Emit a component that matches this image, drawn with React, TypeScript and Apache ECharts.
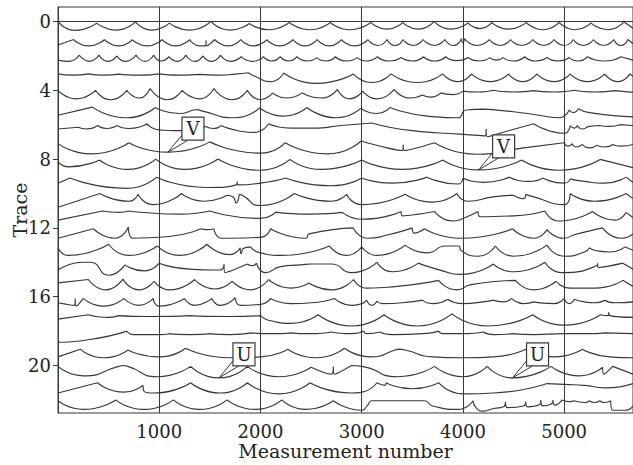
import React, { useEffect, useRef } from "react";
import * as echarts from "echarts";

const xTicks = [1000, 2000, 3000, 4000, 5000];
const yTicks = [0, 4, 8, 12, 16, 20];
const xName = "Measurement number";
const yName = "Trace";

// Each trace: [measurement, offset below the trace's own level (trace units)]
const trace0 = [[0,0],[170,0.52],[382,0.1],[570,0.5],[765,0.02],[930,0.5],[1100,0.1],[1300,0.5],[1510,0.0],[1700,0.5],[1890,0.12],[2080,0.48],[2285,0.05],[2490,0.48],[2690,0.05],[2880,0.48],[3090,0.05],[3250,0.45],[3405,0.05],[3560,0.45],[3715,0.0],[3880,0.45],[4050,0.08],[4170,0.42],[4285,0.05],[4450,0.45],[4625,0.05],[4790,0.48],[4950,0.05],[5110,0.48],[5265,0.08],[5430,0.48],[5590,0.02],[5680,0.4]];
const trace1 = [[0,0.37],[155,0.05],[300,0.42],[460,0.05],[600,0.42],[735,0.05],[880,0.42],[1030,0.05],[1160,0.42],[1300,0.05],[1400,0.42],[1455,0.42],[1462,0.1],[1469,0.42],[1550,0.05],[1680,0.42],[1805,0.05],[1930,0.42],[2062,0.05],[2190,0.42],[2320,0.05],[2440,0.42],[2560,0.05],[2680,0.42],[2800,0.05],[2930,0.42],[3060,0.05],[3160,0.4],[3250,0.05],[3330,0.4],[3408,0.05],[3510,0.4],[3606,0.05],[3720,0.4],[3820,0.05],[3910,0.4],[3985,0.0],[4000,0.25],[4015,0.0],[4140,0.4],[4260,0.05],[4370,0.4],[4470,0.05],[4580,0.4],[4690,0.05],[4800,0.4],[4900,0.05],[5000,0.4],[5090,0.05],[5190,0.4],[5290,0.05],[5390,0.4],[5490,0.05],[5560,0.4],[5630,0.05],[5680,0.3]];
const trace2 = [[0,0.25],[110,0.32],[210,-0.05],[310,0.32],[405,-0.05],[490,0.32],[580,0.0],[670,0.32],[770,-0.05],[860,0.32],[945,-0.05],[1020,0.3],[1095,0.05],[1180,0.32],[1262,-0.05],[1350,0.32],[1430,0.0],[1520,0.32],[1605,-0.05],[1700,0.32],[1810,0.05],[1920,0.32],[2030,0.05],[2110,0.3],[2195,0.05],[2280,0.3],[2360,0.05],[2460,0.3],[2555,0.1],[2650,0.3],[2740,0.05],[2850,0.3],[2955,0.1],[3050,0.3],[3155,0.05],[3270,0.3],[3390,0.1],[3500,0.3],[3610,0.05],[3720,0.3],[3830,0.05],[3940,0.28],[4050,0.1],[4160,0.3],[4265,0.1],[4330,0.25],[4395,0.1],[4500,0.3],[4610,0.05],[4720,0.3],[4830,0.1],[4940,0.3],[5050,0.1],[5140,0.3],[5230,0.05],[5400,0.3],[5560,0.05],[5680,0.25]];
const trace3 = [[0,0.05],[150,0.12],[300,0.05],[450,0.12],[600,0.06],[800,0.12],[1000,0.05],[1200,0.12],[1400,0.08],[1600,0.12],[1750,0.06],[1880,-0.02],[1950,0.2],[2100,0.5],[2230,0.0],[2550,0.6],[2917,0.05],[3100,0.55],[3290,0.05],[3550,0.55],[3800,0.05],[3950,0.5],[4085,0.05],[4270,0.5],[4450,0.05],[4590,0.5],[4730,0.05],[4900,0.5],[5060,0.05],[5230,0.5],[5400,0.05],[5530,0.5],[5650,0.05],[5680,0.2]];
const trace4 = [[0,0.0],[180,0.5],[370,0.0],[520,0.55],[680,0.0],[800,0.45],[910,-0.1],[1080,0.55],[1226,0.0],[1400,0.5],[1540,-0.1],[1720,0.55],[1870,0.0],[2000,0.55],[2120,0.15],[2260,0.45],[2410,0.15],[2600,0.45],[2760,-0.05],[2880,0.5],[3010,0.05],[3150,0.5],[3320,-0.05],[3480,0.45],[3600,0.28],[3680,0.4],[3780,0.15],[3900,0.25],[4000,0.05],[4150,0.1],[4300,0.0],[4500,0.1],[4700,0.02],[4900,0.1],[5100,0.0],[5300,0.1],[5500,0.02],[5680,0.12]];
const trace5 = [[0,0.45],[340,-0.02],[680,0.6],[960,0.0],[1200,0.35],[1340,0.15],[1380,0.12],[1410,0.18],[1750,0.6],[1990,0.02],[2230,0.5],[2460,0.0],[2750,0.6],[2990,0.05],[3150,0.35],[3280,0.0],[3650,0.5],[3950,0.6],[4030,0.15],[4200,0.1],[4500,0.25],[4750,0.45],[4950,0.6],[5050,0.15],[5090,0.3],[5140,0.08],[5250,0.3],[5680,0.55]];
const trace6 = [[0,0.25],[200,0.15],[280,0.25],[390,0.05],[480,0.22],[583,0.05],[700,0.22],[880,-0.05],[1000,0.3],[1150,0.35],[1300,0.3],[1460,0.1],[1540,0.22],[1610,0.05],[1780,0.35],[1936,0.45],[2081,-0.05],[2300,0.2],[2518,0.2],[2800,0.05],[3100,-0.1],[3500,0.35],[3974,0.55],[4220,0.65],[4229,0.25],[4240,0.7],[4450,0.35],[4700,-0.05],[4850,0.35],[5000,0.5],[5060,0.05],[5100,0.2],[5130,0.05],[5180,0.25],[5250,0.1],[5350,0.05],[5450,0.1],[5550,0.0],[5680,0.05]];
const trace7 = [[0,0.1],[330,0.7],[700,0.05],[1086,0.6],[1500,0.0],[2000,0.65],[2245,0.05],[2660,0.7],[2995,-0.05],[3250,0.35],[3400,0.5],[3410,0.15],[3420,0.5],[3720,0.05],[4140,0.72],[4600,0.35],[5000,0.05],[5040,0.25],[5080,0.1],[5120,0.3],[5180,0.15],[5250,0.35],[5320,0.2],[5400,0.3],[5480,0.15],[5560,0.25],[5680,0.15]];
const trace8 = [[0,0.15],[100,0.45],[410,0.05],[690,0.6],[965,0.0],[1250,0.6],[1580,0.0],[2000,0.65],[2290,0.02],[2600,0.6],[3000,0.05],[3400,0.6],[3800,0.05],[4155,0.63],[4580,0.05],[4950,0.65],[5355,0.02],[5680,0.5]];
const trace9 = [[0,0.4],[120,0.1],[680,0.7],[975,0.05],[1470,0.65],[1760,0.5],[1770,0.3],[1780,0.5],[2000,0.4],[2250,0.1],[2700,0.55],[3000,0.1],[3300,0.4],[3645,0.05],[3950,0.45],[4000,0.1],[4200,0.35],[4460,0.05],[4650,0.3],[4790,0.1],[5000,0.4],[5060,0.15],[5200,0.3],[5400,0.4],[5610,0.05],[5680,0.35]];
const trace10 = [[0,0.8],[415,0.0],[700,0.45],[790,0.05],[940,0.65],[1220,0.0],[1440,0.45],[1670,0.1],[1730,0.2],[1760,0.55],[1790,0.05],[1820,0.1],[2000,0.7],[2335,0.0],[2700,0.45],[2850,0.05],[3000,0.65],[3430,0.05],[3700,0.5],[3940,0.0],[4050,0.45],[4300,0.2],[4500,0.1],[4600,0.3],[4620,0.05],[4700,0.2],[5000,0.65],[5060,0.0],[5300,0.45],[5610,0.0],[5680,0.3]];
const trace11 = [[0,0.55],[440,0.02],[600,0.1],[700,0.02],[950,0.15],[1200,0.2],[1500,0.02],[2000,0.45],[2150,0.08],[2500,0.2],[2810,0.1],[3000,0.5],[3390,0.05],[3400,0.3],[3720,0.05],[3900,0.6],[4000,0.45],[4150,0.05],[4170,0.35],[4500,0.3],[4810,0.02],[4950,0.6],[5280,0.05],[5500,0.55],[5610,0.1],[5680,0.4]];
const trace12 = [[0,0.6],[350,0.05],[560,0.6],[695,-0.05],[740,0.6],[1100,0.5],[1410,0.05],[1470,0.1],[1540,0.05],[1620,0.6],[2000,0.55],[2100,0.05],[2450,0.6],[2480,0.35],[2917,0.0],[3060,0.6],[3260,0.4],[3500,0.0],[3520,0.3],[3620,0.05],[3980,0.6],[4490,0.05],[4700,0.6],[4830,0.1],[5000,0.6],[5100,0.4],[5380,0.0],[5560,0.6],[5680,0.35]];
const trace13 = [[0,0.15],[100,0.6],[500,-0.05],[700,0.6],[980,0.05],[1200,0.6],[1470,-0.05],[1700,0.55],[1800,0.15],[1810,0.5],[1830,0.2],[1900,0.1],[2000,0.45],[2200,0.6],[2680,0.05],[2850,0.6],[3000,0.1],[3150,0.6],[3430,0.0],[3650,0.45],[3830,0.05],[3960,0.05],[3980,0.3],[4150,0.65],[4320,0.05],[4500,0.65],[4830,0.0],[5000,0.65],[5200,0.4],[5250,0.15],[5300,0.3],[5450,0.4],[5600,0.1],[5680,0.3]];
const trace14 = [[0,0.45],[250,0.0],[320,0.0],[500,0.75],[660,0.15],[850,0.5],[1000,0.05],[1300,0.4],[1600,0.45],[1640,0.1],[1650,0.6],[1870,0.1],[1920,0.2],[1960,0.05],[2050,0.6],[2200,0.25],[2400,0.15],[2500,0.1],[2700,0.1],[2900,0.6],[3150,0.0],[3300,0.55],[3560,0.05],[3800,0.5],[3970,0.7],[4300,0.1],[4500,0.55],[4810,0.0],[4980,0.6],[5320,0.2],[5330,0.05],[5340,0.3],[5580,0.05],[5680,0.4]];
const trace15 = [[0,0.2],[300,0.0],[470,0.6],[640,-0.02],[800,0.6],[950,0.1],[1100,0.6],[1350,0.0],[1550,0.55],[1720,0.1],[1900,0.6],[2080,0.0],[2300,0.5],[2480,0.2],[2700,0.6],[2920,0.0],[3050,0.5],[3350,0.4],[3760,0.05],[3940,0.6],[4080,0.3],[4520,0.05],[4700,0.6],[4920,0.1],[5060,0.5],[5300,0.5],[5580,0.05],[5680,0.4]];
const trace16 = [[0,0.35],[160,0.5],[170,0.1],[180,0.55],[250,0.1],[450,0.55],[650,0.1],[800,0.5],[940,0.1],[1000,0.55],[1250,0.1],[1350,0.5],[1520,0.1],[1600,0.5],[1750,0.05],[1800,0.5],[2000,0.45],[2100,0.1],[2300,0.4],[2500,0.35],[2730,0.1],[2900,0.5],[3000,0.4],[3050,0.2],[3100,0.5],[3150,0.25],[3200,0.4],[3400,0.35],[3600,0.2],[3700,0.4],[3850,0.15],[4000,0.4],[4200,0.3],[4300,0.2],[4400,0.3],[4480,0.1],[4600,0.4],[4700,0.3],[4900,0.4],[5000,0.1],[5050,0.4],[5100,0.15],[5200,0.3],[5300,0.35],[5400,0.2],[5500,0.35],[5680,0.3]];
const trace17 = [[0,0.3],[300,0.05],[500,0.2],[600,0.1],[900,0.15],[1300,0.1],[1700,0.15],[2000,0.1],[2100,0.4],[2300,0.55],[2570,0.05],[2900,0.7],[3220,0.05],[3550,0.7],[3890,0.0],[4250,0.7],[4690,0.05],[5000,0.65],[5360,0.05],[5430,0.1],[5440,-0.1],[5450,0.1],[5680,0.2]];
const trace18 = [[0,0.65],[300,0.5],[680,0.0],[750,0.2],[1000,0.2],[1100,0.15],[1300,0.2],[1500,0.15],[1700,0.2],[1900,0.1],[2100,0.15],[2300,0.1],[2500,0.15],[2700,0.05],[2900,0.15],[3020,0.0],[3050,0.15],[3180,0.05],[3300,0.2],[3600,0.15],[3760,0.0],[3800,0.15],[4000,0.15],[4200,0.05],[4300,0.2],[4500,0.15],[4700,0.2],[5000,0.15],[5200,0.15],[5400,0.1],[5680,0.15]];
const trace19 = [[0,0.5],[220,0.05],[450,0.55],[690,0.1],[1000,0.5],[1260,0.0],[1700,0.55],[2000,0.5],[2270,0.05],[2550,0.55],[2830,0.0],[3100,0.5],[3330,0.1],[3360,0.05],[3430,0.1],[3700,0.5],[4000,0.55],[4300,0.5],[4620,0.05],[4900,0.5],[5180,0.05],[5450,0.5],[5680,0.55]];
const trace20 = [[0,0.05],[250,0.6],[600,0.05],[640,0.0],[690,0.05],[980,0.65],[1310,0.05],[1590,0.72],[1870,0.05],[2180,0.65],[2500,0.1],[2700,0.5],[2720,0.05],[2730,0.5],[2900,0.0],[3000,0.05],[3350,0.65],[3720,0.05],[4000,0.65],[4240,0.05],[4490,0.72],[4870,0.05],[5150,0.6],[5380,0.1],[5390,0.5],[5480,0.05],[5680,0.5]];
const trace21 = [[0,0.6],[390,0.0],[650,0.55],[840,0.15],[850,0.5],[950,0.6],[1310,0.0],[1600,0.6],[1870,0.0],[2180,0.65],[2490,0.0],[2900,0.6],[3000,0.55],[3150,0.0],[3230,0.15],[3240,0.0],[3500,0.35],[3760,0.0],[4000,0.65],[4300,0.6],[4830,0.05],[5000,0.1],[5200,0.15],[5400,0.3],[5680,0.05]];
const trace22 = [[0,0.05],[250,0.55],[570,0.0],[850,0.55],[1140,0.0],[1400,0.55],[1670,0.0],[1950,0.55],[2210,0.0],[2450,0.55],[2720,0.05],[3000,0.6],[3060,0.3],[3100,0.05],[3620,0.05],[3700,0.35],[3950,0.55],[4100,0.05],[4130,0.45],[4200,0.65],[4300,0.5],[4400,0.4],[4420,0.1],[4440,0.45],[4600,0.35],[4620,0.1],[4640,0.4],[4750,0.3],[4770,0.0],[4790,0.35],[4870,0.25],[4890,0.0],[4910,0.3],[4980,0.0],[5050,0.1],[5100,0.05],[5200,0.15],[5250,0.05],[5300,0.15],[5350,0.05],[5400,0.15],[5460,0.05],[5480,0.6],[5600,0.6],[5680,0.35]];

const traces = [trace0, trace1, trace2, trace3, trace4, trace5, trace6, trace7, trace8, trace9, trace10, trace11, trace12, trace13, trace14, trace15, trace16, trace17, trace18, trace19, trace20, trace21, trace22];

// Callout boxes: label and the data point the pointer touches
const calloutLabels = ["V", "V", "U", "U"];
const calloutX = [1086, 4155, 1590, 4490];
const calloutY = [7.6, 8.63, 20.72, 20.72];

const FONT = "DejaVu Serif";
const INK = "#383838";

// split each trace at its upward cusps so the smooth arcs meet in sharp points
function buildSegments(pts: number[][], idx: number) {
  const n = pts.length;
  const isCusp = (k: number) =>
    k === 0 || k === n - 1 || (pts[k][1] < pts[k - 1][1] && pts[k][1] < pts[k + 1][1]);
  const out: any[] = [];
  let start = 0;
  for (let k = 1; k < n; k++) {
    if (isCusp(k)) {
      for (let j = start; j <= k; j++) out.push([pts[j][0], idx + pts[j][1]]);
      out.push([pts[k][0], "-"]);
      start = k;
    }
  }
  return out;
}

export default function App() {
  const ref = useRef<HTMLDivElement>(null);
  useEffect(() => {
    const chart = echarts.init(ref.current!, null, { renderer: "svg" });
    const series = traces.map((pts, i) => ({
      type: "line",
      data: buildSegments(pts, i),
      smooth: 0.6,
      symbol: "none",
      connectNulls: false,
      silent: true,
      lineStyle: { color: INK, width: 1.15 },
      z: 3,
    }));
    chart.setOption({
      animation: false,
      backgroundColor: "#fff",
      grid: {
        left: 58,
        right: 0,
        top: 7,
        bottom: 52,
        containLabel: false,
        outerBoundsMode: "none",
        show: true,
        borderColor: INK,
        borderWidth: 1,
      },
      xAxis: {
        type: "value",
        min: 0,
        max: 5680,
        interval: 1000,
        axisLine: { show: true, lineStyle: { color: INK } },
        axisTick: { show: true, length: 5, customValues: xTicks, lineStyle: { color: INK } },
        axisLabel: {
          customValues: xTicks,
          formatter: (v: number) => String(v),
          fontFamily: FONT,
          fontSize: 18,
          color: "#222",
          margin: 9,
        },
        splitLine: { show: true, lineStyle: { color: INK, width: 1 } },
        name: xName,
        nameLocation: "middle",
        nameGap: 28,
        nameMoveOverlap: false,
        nameTextStyle: { fontFamily: FONT, fontSize: 19, color: "#222" },
      },
      yAxis: {
        type: "value",
        inverse: true,
        min: -0.84,
        max: 22.76,
        axisLine: { show: true, lineStyle: { color: INK } },
        axisTick: { show: true, length: 5, customValues: yTicks, lineStyle: { color: INK } },
        axisLabel: {
          customValues: yTicks,
          formatter: (v: number) => String(v),
          fontFamily: FONT,
          fontSize: 18,
          color: "#222",
          margin: 7,
        },
        splitLine: { show: false },
        name: yName,
        nameLocation: "middle",
        nameGap: 29,
        nameRotate: 90,
        nameMoveOverlap: false,
        nameTextStyle: { fontFamily: FONT, fontSize: 19, color: "#222" },
      },
      series,
    });

    const graphic: any[] = [];
    calloutLabels.forEach((label, i) => {
      const p = chart.convertToPixel({ gridIndex: 0 }, [calloutX[i], calloutY[i]]) as number[];
      const tx = p[0];
      const ty = p[1];
      const bx = tx + 14;
      const by = ty - 12;
      graphic.push({
        type: "polygon",
        z: 100,
        shape: { points: [[tx, ty], [bx, by - 5], [bx + 6, by]] },
        style: { fill: "#fff", stroke: INK, lineWidth: 1 },
      });
      graphic.push({
        type: "rect",
        z: 101,
        shape: { x: bx, y: by - 23, width: 22, height: 23 },
        style: { fill: "#fff", stroke: INK, lineWidth: 1.2 },
      });
      graphic.push({
        type: "text",
        z: 102,
        x: bx + 11,
        y: by - 11.5,
        style: { text: label, fontFamily: FONT, fontSize: 18, fill: "#222", align: "center", verticalAlign: "middle" },
      });
    });
    chart.setOption({ graphic });

    return () => chart.dispose();
  }, []);
  return <div ref={ref} style={{ position: "fixed", left: 0, top: 0, width: 633, height: 465 }} />;
}
